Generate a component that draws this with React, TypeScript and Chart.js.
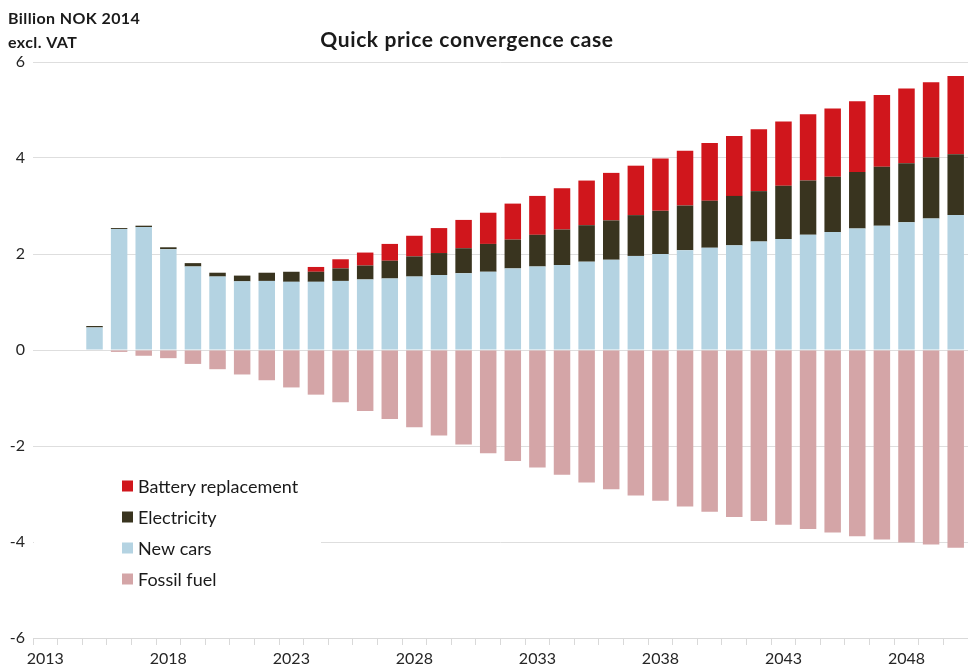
import React, { useEffect, useRef } from "react";
import { Chart, registerables } from "chart.js";

Chart.register(...registerables);

const years = [
  "2013", "2014", "2015", "2016", "2017", "2018", "2019", "2020", "2021", "2022",
  "2023", "2024", "2025", "2026", "2027", "2028", "2029", "2030", "2031", "2032",
  "2033", "2034", "2035", "2036", "2037", "2038", "2039", "2040", "2041", "2042",
  "2043", "2044", "2045", "2046", "2047", "2048", "2049", "2050",
];

const newCars = [
  null, null, 0.47, 2.52, 2.56, 2.1, 1.74, 1.53, 1.43, 1.44,
  1.42, 1.42, 1.44, 1.47, 1.49, 1.53, 1.56, 1.6, 1.63, 1.7,
  1.74, 1.77, 1.84, 1.88, 1.96, 2.0, 2.08, 2.13, 2.18, 2.26,
  2.31, 2.4, 2.46, 2.53, 2.59, 2.66, 2.74, 2.81,
];

const electricity = [
  null, null, 0.03, 0.02, 0.03, 0.04, 0.07, 0.08, 0.12, 0.17,
  0.21, 0.21, 0.26, 0.29, 0.37, 0.42, 0.46, 0.52, 0.58, 0.6,
  0.66, 0.74, 0.76, 0.82, 0.85, 0.9, 0.93, 0.98, 1.03, 1.05,
  1.11, 1.13, 1.15, 1.18, 1.23, 1.23, 1.27, 1.27,
];

const battery = [
  null, null, null, null, null, null, null, null, null, null,
  null, 0.1, 0.19, 0.27, 0.35, 0.43, 0.52, 0.59, 0.65, 0.75,
  0.81, 0.86, 0.93, 0.99, 1.03, 1.09, 1.14, 1.2, 1.25, 1.29,
  1.34, 1.38, 1.42, 1.47, 1.49, 1.56, 1.57, 1.63,
];

const fossil = [
  null, null, -0.01, -0.04, -0.12, -0.17, -0.29, -0.4, -0.51, -0.63,
  -0.78, -0.93, -1.09, -1.27, -1.44, -1.61, -1.78, -1.97, -2.15, -2.31,
  -2.45, -2.6, -2.76, -2.9, -3.03, -3.14, -3.26, -3.37, -3.48, -3.56,
  -3.64, -3.73, -3.8, -3.88, -3.95, -4.01, -4.05, -4.12,
];

const titleText = "Quick price convergence case";
const unitLines = ["Billion NOK 2014", "excl. VAT"];
const legendOrder = ["Battery replacement", "Electricity", "New cars", "Fossil fuel"];

const COLORS: Record<string, string> = {
  "Battery replacement": "#d0161c",
  Electricity: "#39341f",
  "New cars": "#b4d3e2",
  "Fossil fuel": "#d4a5a7",
};

const FONT = "Lato, 'Open Sans', sans-serif";

const decorPlugin = {
  id: "decor",
  afterDraw(chart: any) {
    const ctx = chart.ctx as any;
    const area = chart.chartArea;
    ctx.save();
    // unit label
    ctx.fillStyle = "#1a1a1a";
    ctx.font = `bold 16px ${FONT}`;
    ctx.letterSpacing = "0.4px";
    ctx.textAlign = "left";
    ctx.textBaseline = "middle";
    ctx.fillText(unitLines[0], 8, 19);
    ctx.fillText(unitLines[1], 8, 43);
    // title
    ctx.font = `bold 21px ${FONT}`;
    ctx.letterSpacing = "0.6px";
    ctx.textAlign = "center";
    ctx.fillText(titleText, 467, 40);
    ctx.letterSpacing = "0px";
    // legend background
    ctx.fillStyle = "#ffffff";
    ctx.fillRect(area.left + 1, 468, 320 - area.left, 128);
    // legend items
    ctx.font = `18px ${FONT}`;
    ctx.textAlign = "left";
    legendOrder.forEach((label, i) => {
      const cy = 486 + i * 31;
      ctx.fillStyle = COLORS[label];
      ctx.fillRect(122, cy - 5.5, 11, 11);
      ctx.fillStyle = "#1a1a1a";
      ctx.fillText(label, 138, cy + 1);
    });
    ctx.restore();
  },
};

export default function App() {
  const canvasRef = useRef<HTMLCanvasElement | null>(null);

  useEffect(() => {
    const canvas = canvasRef.current;
    if (!canvas) return;
    const common = {
      categoryPercentage: 1,
      barPercentage: 0.67,
      borderWidth: 0,
      stack: "s",
    };
    const chart = new Chart(canvas, {
      type: "bar",
      data: {
        labels: years,
        datasets: [
          { label: "Fossil fuel", data: fossil, backgroundColor: COLORS["Fossil fuel"], ...common },
          { label: "New cars", data: newCars, backgroundColor: COLORS["New cars"], ...common },
          { label: "Electricity", data: electricity, backgroundColor: COLORS["Electricity"], ...common },
          { label: "Battery replacement", data: battery, backgroundColor: COLORS["Battery replacement"], ...common },
        ] as any,
      },
      options: {
        animation: false,
        responsive: false,
        maintainAspectRatio: false,
        layout: { padding: { top: 62, left: 0, right: 0, bottom: 0 } },
        plugins: {
          legend: { display: false },
          title: { display: false },
          tooltip: { enabled: false },
        },
        scales: {
          x: {
            stacked: true,
            offset: true,
            grid: {
              display: true,
              drawOnChartArea: false,
              drawTicks: true,
              tickLength: 7,
              color: "#d9d9d9",
              offset: true,
            },
            border: { display: true, color: "#d9d9d9" },
            ticks: {
              autoSkip: false,
              maxRotation: 0,
              padding: 4,
              color: "#262626",
              font: { family: FONT, size: 16 },
              callback: (_v: any, i: number) => (i % 5 === 0 ? years[i] : ""),
            },
            afterFit: (scale: any) => {
              scale.height = 31;
            },
          },
          y: {
            stacked: true,
            min: -6,
            max: 6,
            grid: { color: "#dedede", drawTicks: false },
            border: { display: false },
            ticks: {
              stepSize: 2,
              padding: 8,
              color: "#262626",
              font: { family: FONT, size: 16 },
            },
            afterFit: (scale: any) => {
              scale.width = 33;
            },
          },
        },
      },
      plugins: [decorPlugin],
    });
    return () => chart.destroy();
  }, []);

  return (
    <div style={{ position: "fixed", left: 0, top: 0, width: 968, height: 669, background: "#fff" }}>
      <canvas ref={canvasRef} width={968} height={669} style={{ width: 968, height: 669, display: "block" }} />
    </div>
  );
}
